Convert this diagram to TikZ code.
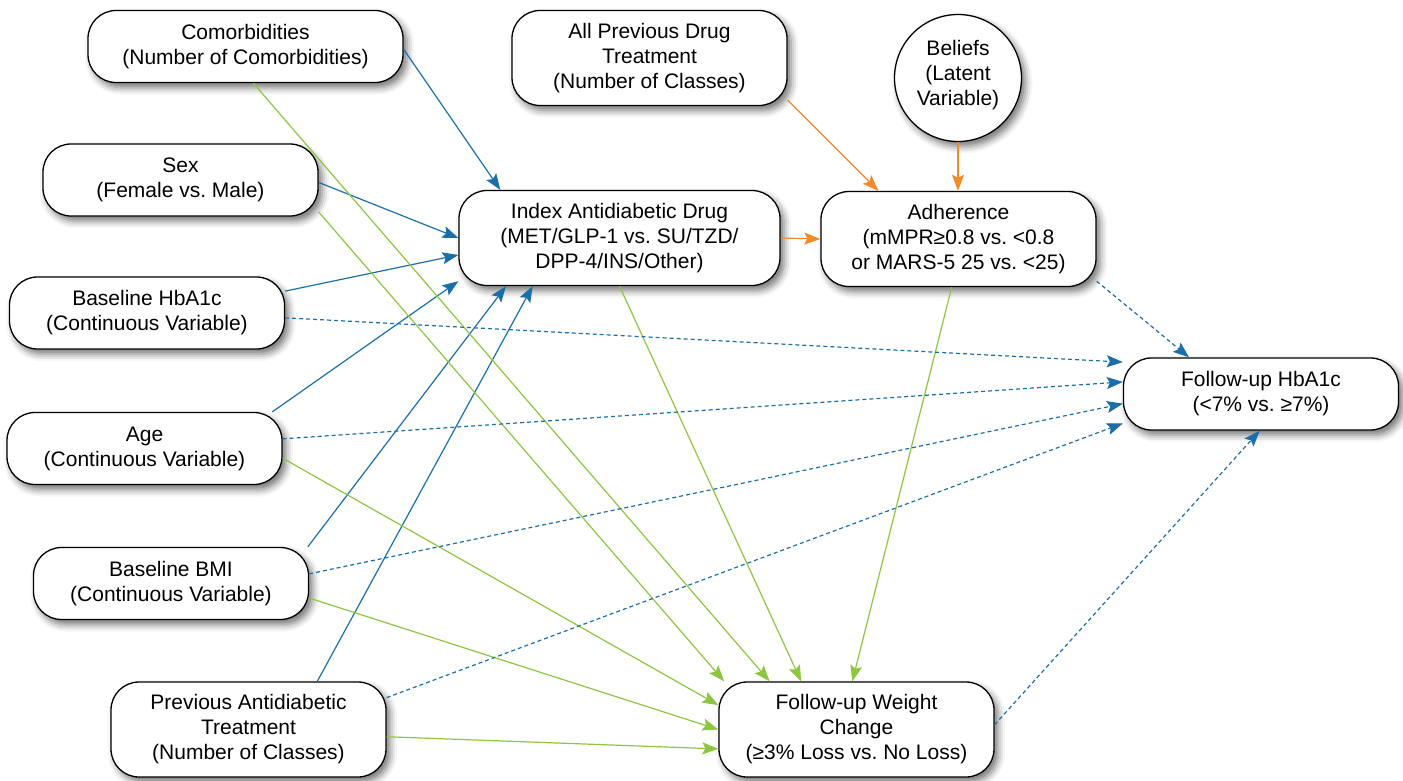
\documentclass[tikz,border=0pt]{standalone}
\usepackage{fontspec}
\setmainfont{Liberation Sans}
\usetikzlibrary{arrows.meta,shadows.blur}
\definecolor{pathblue}{HTML}{1B6FA8}
\definecolor{pathgreen}{HTML}{8DC641}
\definecolor{pathorange}{HTML}{F28A2A}
\begin{document}
\begin{tikzpicture}
[x=1pt,y=-1pt,
 var/.style={draw,line width=1.3pt,fill=white,rounded corners=28pt,minimum width=275pt,minimum height=72pt,
  align=center,inner sep=0pt,font=\fontsize{21}{25}\selectfont,
  blur shadow={shadow xshift=4pt,shadow yshift=-5pt,shadow blur radius=7pt,shadow opacity=55}},
 tall/.style={var,minimum height=95pt},
 latent/.style={var,circle,minimum size=127pt,minimum width=127pt,minimum height=127pt},
 edge/.style={line width=1.2pt,-{Stealth[length=16pt,width=12pt,inset=3pt]}},
 toindex/.style={edge,pathblue},
 toweight/.style={edge,pathgreen},
 tohba/.style={edge,pathblue,dash pattern=on 4pt off 3pt},
 toadh/.style={edge,pathorange}]
\useasboundingbox (0,0) rectangle (1403,780);

\node[var,minimum width=315pt] (como) at (245.5,46.5) {Comorbidities\\(Number of Comorbidities)};
\node[tall] (allprev) at (649.5,58) {All Previous Drug\\Treatment\\(Number of Classes)};
\node[latent] (beliefs) at (958,78) {Beliefs\\(Latent\\Variable)\rule[-10pt]{0pt}{10pt}};
\node[var] (sex) at (180.5,180) {Sex\\(Female vs.\ Male)};
\node[tall,minimum width=321pt] (index) at (619.5,238) {Index Antidiabetic Drug\\(MET/GLP-1 vs.\ SU/TZD/\\DPP-4/INS/Other)};
\node[tall] (adher) at (958.5,239) {Adherence\\(mMPR≥0.8 vs.\ <0.8\\or MARS-5 25 vs.\ <25)};
\node[var] (bhba) at (147,313) {Baseline HbA1c\\(Continuous Variable)};
\node[var] (fhba) at (1261,394) {Follow-up HbA1c\\(<7\% vs.\ ≥7\%)};
\node[var] (age) at (144.5,448.5) {Age\\(Continuous Variable)};
\node[var] (bmi) at (171,583.5) {Baseline BMI\\(Continuous Variable)};
\node[tall] (prevad) at (248.5,729.5) {Previous Antidiabetic\\Treatment\\(Number of Classes)};
\node[tall] (weight) at (856.5,729.5) {Follow-up Weight\\Change\\(≥3\% Loss vs.\ No Loss)};

\draw[toindex] (como.-1) -- (index.158);
\draw[toindex] (sex.-1) -- (index.west);
\draw[toindex] (bhba.9) -- (index.186);
\draw[toindex] (age.16) -- (index.195);
\draw[toindex] (bmi.15) -- (index.203);
\draw[toindex] (prevad.35) -- (index.209);

\draw[toweight] (como.-78) -- (weight.151);
\draw[toweight] (sex.-13) -- (weight.160);
\draw[toweight] (index.south) -- (weight.139);
\draw[toweight] (adher.-98) -- (weight.95);
\draw[toweight] (age.-4) -- (weight.170);
\draw[toweight] (bmi.-6) -- (weight.west);
\draw[toweight] (prevad.-3) -- (weight.188);

\draw[toadh] (index.east) -- (adher.west);
\draw[toadh] (allprev.-17) -- (adher.149);
\draw[toadh] (beliefs.south) -- (beliefs.south |- adher.north);

\draw[tohba] (bhba.-2) -- (fhba.167);
\draw[tohba] (age.4) -- (fhba.175);
\draw[tohba] (bmi.4) -- (fhba.184);
\draw[tohba] (prevad.13) -- (fhba.192);
\draw[tohba] (adher.-17) -- (fhba.153);
\draw[tohba] (weight.2) -- (fhba.-92);

\end{tikzpicture}
\end{document}
